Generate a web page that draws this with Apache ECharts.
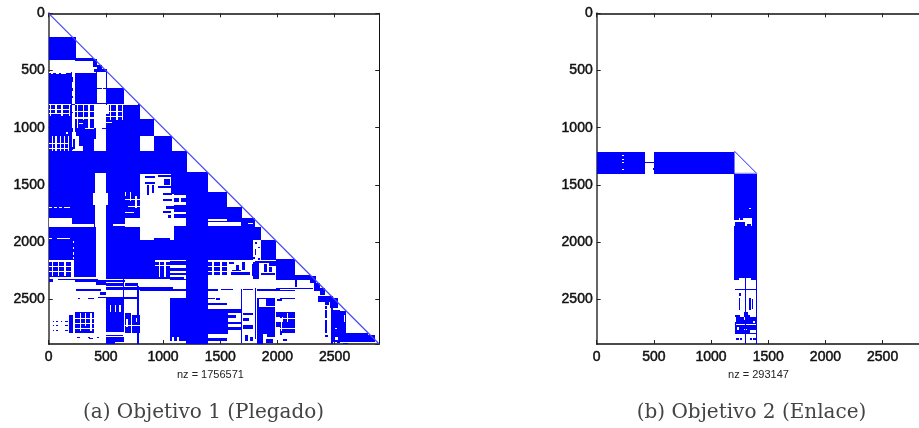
<!DOCTYPE html>
<html><head><meta charset="utf-8">
<style>html,body{margin:0;padding:0;background:#fff}#c{width:919px;height:428px}</style>
<script src="https://cdn.jsdelivr.net/npm/echarts@6/dist/echarts.min.js"></script>
</head><body><div id="c"></div>
<script>
// every rectangle below is [xStart, xEnd, rowStart, rowEnd] in matrix index units
const axisMax = 2890;
const tickStep = 500;
const captionA = "(a) Objetivo 1 (Plegado)";
const captionB = "(b) Objetivo 2 (Enlace)";
const nzA = "nz = 1756571";
const nzB = "nz = 293147";

const aFilled = [
 [0,236,205,408],[233,387,393,417],[0,505,510,795],[505,655,656,795],
 [0,795,795,925],[0,925,925,1075],[0,1075,1075,1205],[0,1205,1205,1390],
 [0,1390,1390,1560],[0,1560,1560,1690],[0,1690,1690,1785],[0,1800,1785,1870],
 [0,1860,1870,1985],[0,1985,1985,2157],[0,2150,2157,2305],[505,2150,2305,2320],
 [1985,2150,2150,2330],[2150,2281,2287,2330],[1204,1393,2320,2890]
];
const aGaps = [
 // first rows
 [205,227,510,795],[0,198,510,530],[227,410,510,520],[410,505,510,795],
 // lattice 800-925 left
 [0,198,795,803],[227,780,795,800],[12,22,803,895],[55,70,803,880],[111,122,803,895],[175,190,803,895],[0,175,835,845],[0,175,872,880],
 [205,227,803,1205],
 [248,260,803,1000],[302,312,803,930],[348,360,803,1000],[395,505,803,1205],[227,395,852,860],[227,395,908,920],[262,300,960,970],[315,395,1000,1010],[240,262,1075,1205],[262,300,1160,1205],[227,240,1040,1205],
 [538,548,803,935],[592,604,803,935],[637,650,803,935],[505,525,803,880],[505,650,852,860],[505,650,897,907],[505,550,948,960],
 // lattice 1075-1205 left
 [27,37,1075,1205],[58,72,1075,1205],[97,108,1075,1205],[132,142,1075,1205],[165,175,1075,1205],[0,175,1132,1140],[0,175,1180,1190],[150,170,1040,1052],
 // square gap
 [795,925,1075,1205],
 // vertical gap column
 [403,505,1397,1570],[390,520,1570,1675],[403,505,1675,1865],[415,505,1865,2385],
 // wide gap
 [795,1072,1400,1985],[1072,1100,1580,1985],
 // lattice left of the wide gap
 [665,675,1560,1600],[712,722,1560,1640],[757,768,1600,1700],[665,795,1622,1630],[690,795,1682,1690],[665,750,1738,1748],
 // white strip
 [0,200,1790,1865],[195,400,1838,1865],[560,665,1838,1860],[665,795,1790,1865],[1072,1204,1790,1860],
 // dashes
 [0,30,1692,1700],[45,75,1692,1700],[90,120,1692,1700],[135,190,1692,1700],
 [0,25,1962,1970],[70,190,1962,1970],[215,225,1990,2010],[215,225,2040,2060],[215,225,2090,2110],[215,225,2130,2150],
 // lattice right of the wide gap
 [1080,1200,1590,1610],[1080,1200,1652,1678],[1100,1204,1738,1752],[1140,1155,1612,1650],
 [1393,1560,1800,1813],[1393,1640,1827,1858],[1568,1684,1823,1860],[1742,1786,1835,1845],
 // column gap near 1800
 [1790,1855,1985,2157],
 // row lattice 2157-2320
 [0,198,2157,2170],[0,198,2207,2216],[27,38,2172,2300],[77,92,2172,2300],[132,148,2172,2300],[198,221,2157,2310],[0,198,2252,2260],
 [926,1060,2157,2172],[926,1060,2202,2212],[962,973,2157,2305],[1012,1023,2157,2305],[1060,1204,2157,2168],[1060,1204,2202,2224],[1060,1204,2252,2268],[1060,1204,2287,2305],
 [1393,1565,2157,2172],[1393,1565,2207,2220],[1393,1565,2252,2263],[1432,1443,2157,2305],[1502,1517,2157,2305],[1560,1800,2157,2320],[1393,1560,2290,2320],[1800,1985,2157,2168],[1840,1985,2185,2320],
 [1180,1204,2305,2320]
];
const aMarks = [
 // near the diagonal, top
 [385,420,400,470],[420,470,450,490],[400,507,490,510],[497,507,510,800],[420,470,652,660],[478,505,652,660],[420,505,786,795],[410,425,510,790],
 [0,20,520,535],[40,60,520,532],[90,110,520,530],[150,198,520,530],[205,215,560,600],[205,215,650,680],[205,215,720,740],[205,215,860,870],[205,215,1000,1040],[215,227,1100,1190],[205,215,1170,1195],
 [470,500,1000,1010],[395,415,1000,1100],[505,512,1100,1205],[395,410,1200,1205],
 // wide gap lattice
 [840,930,1420,1440],[840,930,1470,1490],[955,1070,1415,1430],[1010,1060,1450,1500],[955,1070,1510,1525],[860,880,1500,1590],[900,920,1500,1570],[1000,1075,1570,1590],[1000,1075,1620,1640],[1030,1100,1680,1710],[1000,1070,1730,1745],[1040,1072,1760,1790],[920,1060,1965,1985],[960,975,2010,2030],
 [660,675,1600,1615],[700,740,1650,1660],[680,700,1760,1772],
 [200,400,1832,1838],[240,260,1790,1835],[290,350,1820,1832],
 // column gap
 [1800,1820,2000,2020],[1800,1815,2060,2110],[1830,1850,2040,2050],[1790,1805,2130,2150],[1740,1750,2100,2120],[1830,1845,2140,2157],
 [1575,1620,2175,2195],[1690,1720,2175,2240],[1600,1680,2240,2255],[1590,1760,2265,2290],[1640,1660,2200,2240],[1775,1795,2190,2300],[1790,1830,2175,2320],[1885,1905,2190,2260],[1860,1980,2270,2290],[1930,1985,2185,2210],[1930,1950,2220,2260],
 // lower band lines
 [505,665,2335,2345],[505,650,2360,2385],[665,780,2360,2380],[505,1090,2395,2415],[800,1090,2420,2430],[242,460,2405,2425],[445,505,2435,2465],[416,505,2330,2375],
 [255,270,2487,2500],[345,400,2487,2500],[430,505,2480,2490],[775,790,2380,2890],[650,660,2320,2490],[505,785,2480,2495],[0,40,2320,2345],[80,230,2320,2335],[230,415,2320,2345],[415,430,2320,2350],
 // lower left blocks
 [505,655,2495,2785],[505,655,2825,2870],[505,650,2810,2820],[665,720,2620,2795],[730,795,2640,2795],[227,400,2610,2795],[505,580,2875,2890],[350,390,2840,2850],
 [35,50,2690,2700],[60,80,2690,2700],[35,50,2725,2735],[60,80,2725,2735],[35,50,2765,2775],[60,80,2765,2775],[110,120,2690,2700],[140,170,2690,2700],[140,170,2725,2735],[140,170,2765,2775],[180,210,2640,2795],
 [250,270,2830,2840],[345,360,2830,2840],[420,440,2830,2840],
 // right of the column
 [1058,1204,2490,2800],[1058,1204,2805,2825],[1058,1080,2825,2860],[1100,1120,2825,2860],[1140,1204,2825,2860],[1058,1204,2405,2425],[1058,1204,2320,2335],
 [1393,1480,2405,2430],[1510,1610,2405,2422],[1393,1450,2490,2500],[1460,1500,2490,2505],[1393,1560,2535,2550],[1393,1690,2580,2620],[1393,1565,2620,2800],[1393,1560,2840,2860],[1565,1640,2640,2660],[1565,1685,2700,2715],[1565,1685,2745,2770],[1685,1692,2405,2880],[1700,1785,2615,2635],[1700,1750,2665,2685],[1700,1785,2725,2760],[1715,1740,2810,2860],[1760,1785,2830,2860],[1700,1785,2410,2420],
 [1820,2020,2410,2430],[1820,1975,2490,2500],[1900,1975,2500,2560],[1820,1840,2500,2570],[1820,1975,2570,2800],[1820,1870,2800,2887],[1905,1975,2800,2830],[1900,1960,2850,2880],[1806,1815,2400,2850],[2020,2040,2620,2670],[2020,2040,2750,2810],
 // lower right
 [1990,2310,2400,2410],[2000,2150,2418,2426],[2155,2170,2330,2390],[2020,2150,2490,2500],[2000,2040,2500,2510],
 [1990,2150,2607,2650],[2050,2150,2650,2700],[1990,2150,2700,2740],[2020,2150,2740,2796],[2050,2080,2850,2860],
 [2281,2340,2300,2360],[2320,2370,2360,2430],[2370,2412,2400,2460],[2354,2485,2470,2520],[2412,2455,2510,2545],[2456,2530,2490,2578],[2420,2435,2560,2580],
 [2485,2600,2590,2810],[2485,2790,2796,2870],[2790,2850,2810,2870],[2412,2432,2592,2796],[2470,2485,2540,2890],[2520,2550,2870,2885],[2570,2620,2880,2888],[2420,2440,2810,2830]
];
const aSpecks = [
 [2420,2432,2660,2680],[2500,2520,2750,2760],[2500,2530,2830,2855],[2550,2590,2590,2600],[2580,2590,2640,2700],
 [270,280,2620,2780],[320,330,2620,2730],[365,375,2620,2780],[227,400,2660,2670],[227,400,2705,2715],[227,400,2750,2760],
 [533,548,2550,2608],[577,591,2550,2608],[612,630,2550,2608],
 [680,690,2670,2740],[760,772,2660,2700],[665,795,2725,2735],[1990,2150,2660,2668],[2080,2095,2620,2700],[2030,2040,2700,2780],[1990,2150,2752,2760]
];
const aDiagonal = [[0,0],[2890,2890]];

const bFilled = [
 [0,405,1210,1400],[510,1205,1210,1400],[1200,1398,1400,1790],[1200,1398,1860,2315],[1210,1398,2635,2805]
];
const bGaps = [
 [225,235,1240,1250],[225,235,1270,1285],[225,235,1300,1310],[225,235,1360,1370],
 [1330,1345,1700,1708],
 [1200,1218,2655,2700],[1250,1290,2635,2650],[1340,1398,2635,2650],[1210,1398,2718,2726],[1225,1245,2745,2765],[1290,1310,2760,2770],[1340,1398,2770,2790],[1290,1300,2655,2680],[1370,1385,2690,2705]
];
const bMarks = [
 [405,418,1210,1400],[500,515,1210,1400],[418,500,1296,1306],[415,425,1230,1250],[495,505,1350,1370],
 [1200,1240,1790,1805],[1250,1275,1790,1810],[1205,1300,1820,1860],[1355,1398,1790,1860],[1310,1350,1845,1860],
 [1200,1240,2315,2330],[1345,1398,2315,2330],[1205,1225,2405,2416],[1205,1398,2410,2420],[1240,1260,2440,2470],
 [1294,1304,2315,2890],[1390,1400,2315,2890],[1290,1320,2610,2635],
 [1240,1255,2490,2590],[1335,1345,2490,2590],[1355,1365,2500,2580],[1205,1220,2700,2805],
 [1220,1240,2840,2855],[1250,1270,2840,2855],[1340,1360,2840,2855],[1370,1390,2840,2855]
];
const bDiagonal = [[1205,1205],[1400,1400]];
const bEdges = [[1205,1205],[1205,1398],[1400,1398]];

const blue = '#0000ff';
const rectSeries = (rows, color, x, y) => ({
  type: 'custom', xAxisIndex: x, yAxisIndex: y, data: rows, clip: true, silent: true,
  encode: { x: [0, 1], y: [2, 3] },
  renderItem: (p, api) => {
    const a = api.coord([api.value(0), api.value(2)]);
    const b = api.coord([api.value(1), api.value(3)]);
    const x0 = Math.round(a[0]), y0 = Math.round(a[1]);
    const w = Math.max(1, Math.round(b[0]) - x0), h = Math.max(1, Math.round(b[1]) - y0);
    return { type: 'rect', shape: { x: x0, y: y0, width: w, height: h }, style: { fill: color } };
  }
});
const lineSeries = (pts, color, w, x, y) => ({
  type: 'line', xAxisIndex: x, yAxisIndex: y, data: pts, symbol: 'none', silent: true,
  lineStyle: { color, width: w }
});
const plain = v => String(v);
const labelStyle = { fontFamily: 'Liberation Sans', fontSize: 14, color: '#111', textBorderColor: '#111', textBorderWidth: 0.5, formatter: plain };
const mkX = (gridIndex, position, name) => ({
  type: 'value', gridIndex, position, min: 0, max: axisMax, interval: tickStep,
  splitLine: { show: false },
  axisLine: { show: true, onZero: false, lineStyle: { color: '#111', width: 1.5 } },
  axisTick: { show: true, inside: true, length: 4, lineStyle: { color: '#222', width: 1 } },
  axisLabel: position === 'bottom' ? { ...labelStyle, margin: 6, showMaxLabel: false, showMinLabel: true } : { show: false },
  name: name || '', nameLocation: 'middle', nameGap: 20,
  nameTextStyle: { fontFamily: 'Liberation Sans', fontSize: 11, color: '#222', padding: [0, 7, 0, 0] }
});
const mkY = (gridIndex, position) => ({
  type: 'value', gridIndex, position, inverse: true, min: 0, max: axisMax, interval: tickStep,
  splitLine: { show: false },
  axisLine: { show: true, onZero: false, lineStyle: { color: position === 'left' ? '#666' : '#111', width: position === 'left' ? 2 : 1 } },
  axisTick: { show: true, inside: true, length: 4, lineStyle: { color: '#222', width: 1 } },
  axisLabel: position === 'left' ? { ...labelStyle, margin: 4, showMaxLabel: false, showMinLabel: true } : { show: false }
});
const capStyle = { fontFamily: 'DejaVu Serif', fontSize: 20, fontWeight: 'normal', color: '#444' };

const chart = echarts.init(document.getElementById('c'), null, { renderer: 'canvas' });
chart.setOption({
  animation: false,
  backgroundColor: '#fff',
  title: [
    { text: captionA, left: 203.5, textAlign: 'center', top: 403, textStyle: capStyle, padding: 0 },
    { text: captionB, left: 751.5, textAlign: 'center', top: 403, textStyle: capStyle, padding: 0 }
  ],
  grid: [
    { left: 48.7, top: 13.3, width: 330.5, height: 330.7, outerBoundsMode: 'none' },
    { left: 596.7, top: 13.3, width: 330.5, height: 330.7, outerBoundsMode: 'none' }
  ],
  xAxis: [mkX(0,'bottom',nzA), mkX(0,'top'), mkX(1,'bottom',nzB), mkX(1,'top')],
  yAxis: [mkY(0,'left'), mkY(0,'right'), mkY(1,'left'), mkY(1,'right')],
  series: [
    rectSeries(aFilled, blue, 0, 0),
    rectSeries(aGaps, '#fff', 0, 0),
    rectSeries(aMarks, blue, 0, 0),
    rectSeries(aSpecks, '#fff', 0, 0),
    lineSeries(aDiagonal, '#4444ff', 1.2, 0, 0),
    rectSeries(bFilled, blue, 2, 2),
    rectSeries(bGaps, '#fff', 2, 2),
    rectSeries(bMarks, blue, 2, 2),
    lineSeries(bDiagonal, '#2222ff', 1, 2, 2),
    lineSeries(bEdges, '#7777ff', 1, 2, 2)
  ]
});
</script></body></html>
